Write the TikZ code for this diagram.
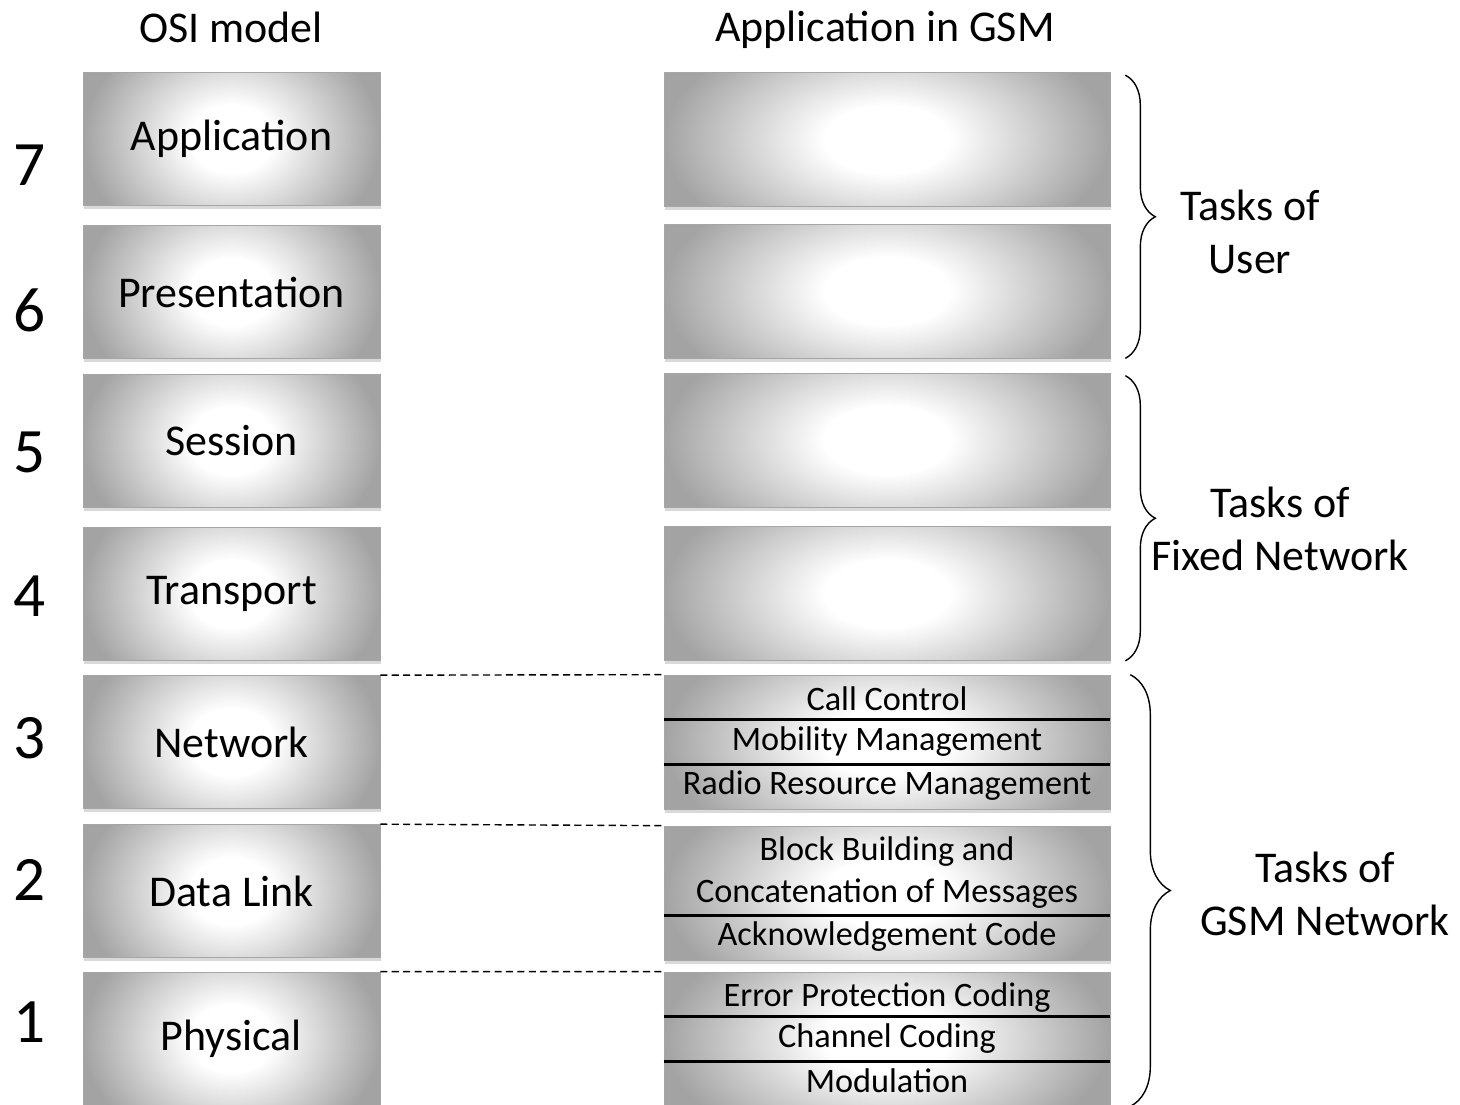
\documentclass[tikz,border=0pt]{standalone}
\usepackage{fontspec}
\setmainfont{Carlito}
\usetikzlibrary{positioning,calc,shadows,decorations.pathreplacing}

\pgfdeclareradialshading{layershade}{\pgfpoint{0bp}{0bp}}{color(0bp)=(white); color(7bp)=(white); color(25bp)=(gray!72); color(50bp)=(gray!72)}

\begin{document}
\begin{tikzpicture}[x=0.02cm, y=-0.02cm,
    layer/.style={rectangle, fill=gray!72, draw=gray!70, thin,
        drop shadow={opacity=0.3, shadow xshift=0.5pt, shadow yshift=-2pt},
        path picture={
            \shade[shading=layershade]
                let \p1=($(path picture bounding box.north east)-(path picture bounding box.south west)$) in
                (path picture bounding box.center) ellipse [x radius=0.5*\x1, y radius=0.9*\y1];
        },
        font=\fontsize{25}{30}\selectfont},
    subtask/.style={font=\fontsize{19.5}{24}\selectfont, align=center, inner sep=0pt},
    brlabel/.style={font=\fontsize{25}{30}\selectfont, align=center}]
    \useasboundingbox (0,0) rectangle (1460,1105);

    % Add titles
    \node[brlabel] (osititle) at (231,27) {OSI model};
    \node[brlabel] (gsmtitle) at (885,30) {Application in GSM};

    % Draw the OSI layers with their numbers
    \foreach \n/\txt/\yc in {7/Application/138.5, 6/Presentation/292, 5/Session/440.5,
        4/Transport/593.5, 3/Network/742, 2/Data Link/891, 1/Physical/1038.5} {
        \node[layer, minimum width=5.94cm, minimum height=2.66cm] (osi\n) at (231.5,\yc) {\txt};
    }
    \foreach \n/\yc in {7/165, 6/310, 5/452, 4/596, 3/738, 2/880, 1/1022} {
        \node[font=\fontsize{36}{40}\selectfont] (num\n) at (30,\yc) {\n};
    }

    % Draw the GSM boxes
    \foreach \n/\yc in {7/139.5, 6/291, 5/440, 4/593.5, 3/742, 2/893, 1/1039} {
        \node[layer, minimum width=8.92cm, minimum height=2.68cm] (gsm\n) at (887,\yc) {};
    }

    % Split the lower boxes into rows
    \foreach \g/\f in {3/0.333, 3/0.667, 2/0.667, 1/0.333, 1/0.667} {
        \draw[line width=1.2pt] ($(gsm\g.north west)!\f!(gsm\g.south west)$) -- ($(gsm\g.north east)!\f!(gsm\g.south east)$);
    }
    \node[subtask] (cc) at ($(gsm3.north)!0.18!(gsm3.south)$) {Call Control};
    \node[subtask] (mm) at ($(gsm3.north)!0.5!(gsm3.south)$) {Mobility Management};
    \node[subtask] (rrm) at ($(gsm3.north)!0.82!(gsm3.south)$) {Radio Resource Management};
    \node[subtask] (bb) at ($(gsm2.north)!0.35!(gsm2.south)$) {Block Building and\\Concatenation of Messages};
    \node[subtask] (ack) at ($(gsm2.north)!0.82!(gsm2.south)$) {Acknowledgement Code};
    \node[subtask] (epc) at ($(gsm1.north)!0.19!(gsm1.south)$) {Error Protection Coding};
    \node[subtask] (chc) at ($(gsm1.north)!0.5!(gsm1.south)$) {Channel Coding};
    \node[subtask] (mod) at ($(gsm1.north)!0.81!(gsm1.south)$) {Modulation};

    % Dashed links between matching layers
    \foreach \n in {3,2,1} {
        \draw[dashed, dash pattern=on 4pt off 2.5pt, line width=0.8pt] (osi\n.north east) -- (gsm\n.north west);
    }

    % Braces and their labels
    \draw[decorate, decoration={brace, amplitude=0.6cm}, line width=0.8pt]
        ($(gsm7.north east)+(15,3)$) -- ($(gsm6.south east)+(15,0)$);
    \draw[decorate, decoration={brace, amplitude=0.6cm}, line width=0.8pt]
        ($(gsm5.north east)+(15,3)$) -- ($(gsm4.south east)+(15,0)$);
    \draw[decorate, decoration={brace, amplitude=0.8cm}, line width=0.8pt]
        ($(gsm3.north east)+(20,0)$) -- ($(gsm1.south east)+(20,0)$);
    \node[brlabel] (user) at (1250,232) {Tasks of\\User};
    \node[brlabel] (fixed) at (1280,529) {Tasks of\\Fixed Network};
    \node[brlabel] (gsmnet) at (1325,894) {Tasks of\\GSM Network};
\end{tikzpicture}
\end{document}
